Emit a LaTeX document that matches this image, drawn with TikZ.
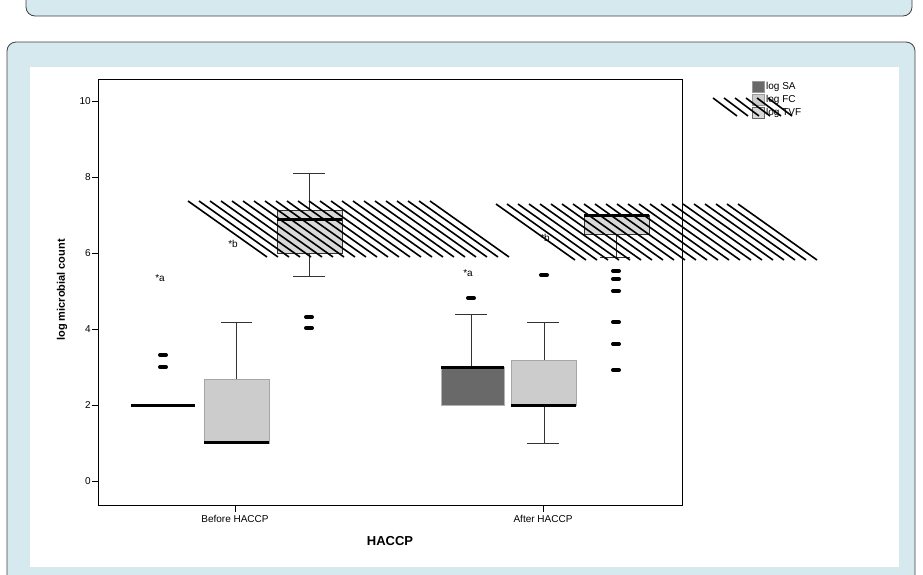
\documentclass[tikz,border=0pt]{standalone}
\usepackage{fontspec}
\setmainfont{Liberation Sans}
\usetikzlibrary{positioning}
\definecolor{panelblue}{HTML}{D6E9EF}
\definecolor{saGray}{HTML}{696969}
\definecolor{fcGray}{HTML}{CCCCCC}
\tikzstyle{panel}=[draw=black!75, fill=panelblue, rounded corners=9pt, line width=0.8pt]
\tikzstyle{med}=[line width=3pt]
\tikzstyle{whisk}=[line width=0.7pt, black!80]
\tikzstyle{outl}=[line width=4pt, line cap=round]
\tikzstyle{hatch}=[line width=1.6pt]
\tikzstyle{lbl}=[font=\fontsize{10}{12}\selectfont, inner sep=0pt]

\begin{document}
\begin{tikzpicture}[x=1pt, y=-1pt]
    \useasboundingbox (0,0) rectangle (923,574);
    % panels
    \draw[panel] (26,-20) rectangle (912,16);
    \draw[panel] (7,42) rectangle (915,600);
    \fill[white] (30,67) rectangle (899,567);
    % frame and axis
    \draw[line width=0.8pt] (98,79) rectangle (682,505);
    \foreach \v/\ypx in {0/481, 2/405, 4/329, 6/253, 8/177, 10/101} {
        \draw[line width=0.7pt] (92,\ypx) -- (98,\ypx);
        \node[lbl, anchor=east] (tick\v) at (91,\ypx) {\v};
    }
    \draw[line width=0.7pt] (235,505) -- (235,512);
    \draw[line width=0.7pt] (543,505) -- (543,512);
    \node[lbl] (before) at (235,519) {Before HACCP};
    \node[lbl] (after) at (543,519) {After HACCP};
    \node[font=\fontsize{13}{15}\selectfont\bfseries] (xlab) at (390,541) {HACCP};
    \node[font=\fontsize{11}{13}\selectfont\bfseries, rotate=90] (ylab) at (62,290) {log microbial count};

    % before HACCP
    \draw[med] (131,405) -- (195,405);
    \draw[outl] (160,355) -- (166,355);
    \draw[outl] (160,367) -- (166,367);
    \draw[whisk] (236,379) -- (236,322) (221,322) -- (252,322);
    \draw[fill=fcGray, draw=black!35] (204,379) rectangle (269,443);
    \draw[med] (204,442) -- (269,442);
    \draw[whisk] (309,210) -- (309,173) (293,173) -- (325,173);
    \draw[whisk] (309,253) -- (309,276) (293,276) -- (325,276);
    \draw[fill=black!15, draw=black!80] (277,210) rectangle (342,253);
    \draw[med] (277,219) -- (342,219);
    \draw[outl] (306,317) -- (312,317);
    \draw[outl] (306,328) -- (312,328);
    \node[lbl] (sigA1) at (160,278) {*a};
    \node[lbl] (sigB1) at (233,244) {*b};

    % after HACCP
    \draw[whisk] (471,367) -- (471,314) (455,314) -- (487,314);
    \draw[fill=saGray, draw=black!30] (441,367) rectangle (504,405);
    \draw[med] (441,367) -- (504,367);
    \draw[outl] (468,298) -- (474,298);
    \draw[whisk] (544,360) -- (544,322) (527,322) -- (559,322);
    \draw[whisk] (544,405) -- (544,443) (527,443) -- (559,443);
    \draw[fill=fcGray, draw=black!35] (511,360) rectangle (576,405);
    \draw[med] (511,405) -- (576,405);
    \draw[outl] (541,275) -- (547,275);
    \draw[whisk] (616,234) -- (616,257) (600,257) -- (630,257);
    \draw[fill=black!15, draw=black!80] (584,215) rectangle (649,234);
    \draw[med] (584,215) -- (649,215);
    \foreach \ypx in {271, 279, 291, 322, 344, 370}
        \draw[outl] (613,\ypx) -- (619,\ypx);
    \node[lbl] (sigA2) at (468,273) {*a};
    \node[lbl] (sigB2) at (545,238) {*b};

    % hatching
    \foreach \i in {0,...,22} {
        \draw[hatch] (188+11*\i,201) -- (267+11*\i,257);
        \draw[hatch] (496+11*\i,204) -- (575+11*\i,260);
    }

    % legend
    \draw[fill=saGray, draw=black!40] (752,81) rectangle (764,92);
    \draw[fill=fcGray, draw=black!40] (752,94) rectangle (764,105);
    \draw[fill=black!15, draw=black!60] (752,107) rectangle (764,118);
    \node[lbl, anchor=west] (legSA) at (766,87) {log SA};
    \node[lbl, anchor=west] (legFC) at (766,100) {log FC};
    \node[lbl, anchor=west] (legTVF) at (766,113) {log TVF};
    \foreach \i in {0,...,5}
        \draw[hatch] (713+11*\i,98) -- (737+11*\i,116);
\end{tikzpicture}
\end{document}
